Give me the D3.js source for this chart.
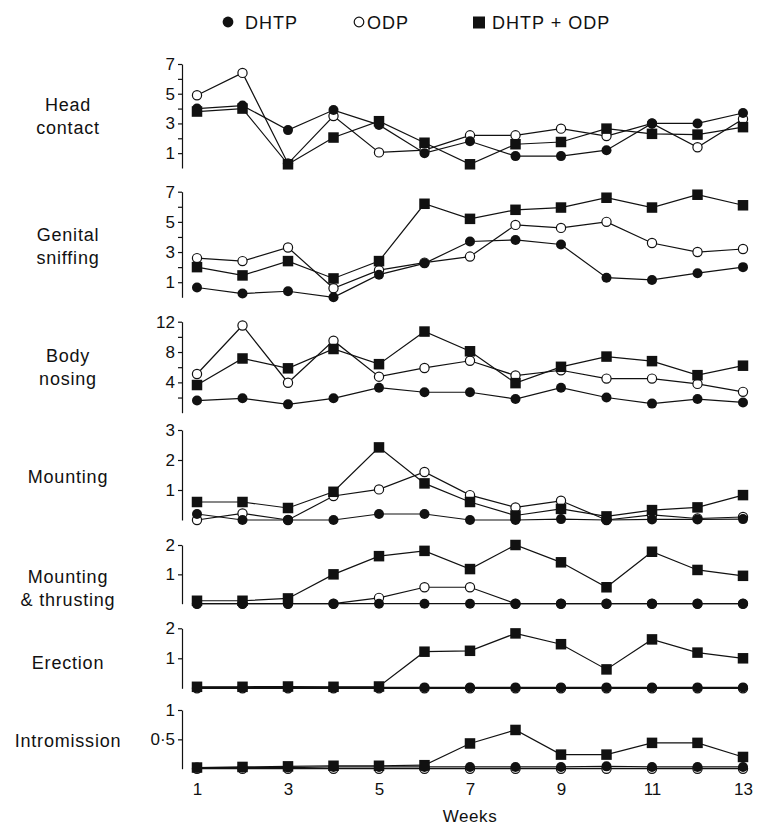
<!DOCTYPE html>
<html>
<head>
<meta charset="utf-8">
<script src="https://cdn.jsdelivr.net/npm/d3@7"></script>
<style>
  body { margin: 0; background: #fff; }
  svg { font-family: "Liberation Sans", Arial, Helvetica, sans-serif; }
</style>
</head>
<body>
<svg id="chart" width="758" height="825"></svg>
<script>
const weeks = [1, 2, 3, 4, 5, 6, 7, 8, 9, 10, 11, 12, 13];
const weekLabels = [1, 3, 5, 7, 9, 11, 13];
const seriesNames = ['DHTP', 'ODP', 'DHTP + ODP'];
const behaviours = [
  ['Head', 'contact'],
  ['Genital', 'sniffing'],
  ['Body', 'nosing'],
  ['Mounting'],
  ['Mounting', '& thrusting'],
  ['Erection'],
  ['Intromission']
];

// one row per behaviour, one value per week
const dhtp = [
  [4.0, 4.2, 2.55, 3.9, 2.9, 1.0, 1.8, 0.8, 0.8, 1.2, 3.0, 3.0, 3.7],
  [0.65, 0.25, 0.4, 0.0, 1.5, 2.25, 3.7, 3.8, 3.5, 1.3, 1.15, 1.6, 2.0],
  [1.6, 1.9, 1.1, 1.9, 3.3, 2.7, 2.7, 1.8, 3.3, 2.0, 1.2, 1.8, 1.35],
  [0.2, 0, 0, 0, 0.2, 0.2, 0, 0, 0.03, 0, 0.02, 0.02, 0.03],
  [0, 0, 0, 0, 0, 0, 0, 0, 0, 0, 0, 0, 0],
  [0.03, 0.03, 0.03, 0.03, 0.03, 0.03, 0.03, 0.03, 0.03, 0.03, 0.03, 0.03, 0.03],
  [0.02, 0.02, 0.02, 0.03, 0.03, 0.03, 0.03, 0.03, 0.03, 0.04, 0.03, 0.03, 0.03]
];
const odp = [
  [4.9, 6.4, 0.3, 3.5, 1.05, 1.2, 2.2, 2.2, 2.65, 2.15, 3.0, 1.4, 3.3],
  [2.6, 2.4, 3.3, 0.6, 1.8, 2.3, 2.7, 4.8, 4.6, 5.0, 3.6, 3.0, 3.2],
  [5.1, 11.5, 3.95, 9.5, 4.75, 5.9, 6.85, 4.9, 5.6, 4.5, 4.5, 3.8, 2.75],
  [0, 0.22, 0, 0.8, 1.02, 1.6, 0.83, 0.42, 0.64, 0, 0.17, 0.05, 0.1],
  [0, 0, 0, 0, 0.2, 0.56, 0.56, 0, 0, 0, 0, 0, 0],
  [0, 0, 0, 0, 0, 0, 0, 0, 0, 0, 0, 0, 0],
  [0, 0, 0, 0, 0, 0, 0, 0, 0, 0, 0, 0, 0]
];
const combined = [
  [3.8, 4.0, 0.25, 2.05, 3.15, 1.7, 0.25, 1.6, 1.75, 2.65, 2.3, 2.25, 2.75],
  [2.0, 1.45, 2.4, 1.25, 2.4, 6.2, 5.2, 5.8, 5.95, 6.6, 5.95, 6.8, 6.1],
  [3.65, 7.15, 5.85, 8.4, 6.4, 10.7, 8.1, 3.9, 6.05, 7.4, 6.8, 4.95, 6.2],
  [0.6, 0.6, 0.4, 0.94, 2.42, 1.22, 0.6, 0.15, 0.37, 0.12, 0.33, 0.42, 0.83],
  [0.1, 0.1, 0.18, 1.0, 1.62, 1.8, 1.18, 2.0, 1.41, 0.56, 1.77, 1.15, 0.95],
  [0.05, 0.05, 0.06, 0.05, 0.06, 1.22, 1.25, 1.83, 1.47, 0.63, 1.63, 1.19, 1.0],
  [0.02, 0.03, 0.04, 0.05, 0.05, 0.06, 0.43, 0.66, 0.24, 0.24, 0.44, 0.44, 0.2]
];

const yMax = [7, 7, 12, 3, 2, 2, 1];
const yTicks = [
  [1, 2, 3, 4, 5, 6, 7],
  [1, 2, 3, 4, 5, 6, 7],
  [2, 4, 6, 8, 10, 12],
  [1, 2, 3],
  [1, 2],
  [1, 2],
  [0.5, 1]
];
const yTickLabels = [
  [1, 3, 5, 7],
  [1, 3, 5, 7],
  [4, 8, 12],
  [1, 2, 3],
  [1, 2],
  [1, 2],
  [0.5, 1]
];

// panel placement: [top, bottom, label centre y]
const panelBox = [
  [64, 168, 116],
  [191.7, 297.3, 246],
  [321.7, 412.7, 367],
  [430, 520, 477],
  [545, 603.7, 588],
  [628.3, 688.3, 663],
  [710, 768.7, 741]
];

const svg = d3.select('#chart');
const x = d3.scaleLinear().domain([1, 13]).range([197, 743]);
const axisX = 182;
const fmtTick = d => String(d).replace('.', '\u00b7');

behaviours.forEach((label, i) => {
  const [top, bottom, labelY] = panelBox[i];
  const y = d3.scaleLinear().domain([0, yMax[i]]).range([bottom, top]);
  const g = svg.append('g');

  const axis = d3.axisLeft(y)
    .tickValues(yTicks[i])
    .tickSize(4)
    .tickSizeOuter(0)
    .tickPadding(3)
    .tickFormat(d => yTickLabels[i].includes(d) ? fmtTick(d) : '');
  const ag = g.append('g')
    .attr('transform', `translate(${axisX},0)`)
    .call(axis);
  ag.selectAll('path, line').attr('stroke', '#111').attr('stroke-width', 1.2);
  ag.selectAll('text')
    .attr('font-size', 17)
    .attr('fill', '#111')
    .style('font-family', '"Liberation Sans", Arial, sans-serif');

  // behaviour name, left of the axis
  const lineGap = 23;
  const firstY = labelY - (label.length - 1) * lineGap / 2 + 6;
  g.append('text')
    .attr('text-anchor', 'middle')
    .attr('font-size', 18)
    .attr('letter-spacing', 0.8)
    .attr('fill', '#111')
    .selectAll('tspan')
    .data(label)
    .enter()
    .append('tspan')
    .attr('x', 68)
    .attr('y', (d, j) => firstY + j * lineGap)
    .text(d => d);

  const line = d3.line()
    .x((d, j) => x(weeks[j]))
    .y(d => y(d));

  const sets = [odp[i], dhtp[i], combined[i]];
  sets.forEach(vals => {
    g.append('path')
      .datum(vals)
      .attr('d', line)
      .attr('fill', 'none')
      .attr('stroke', '#111')
      .attr('stroke-width', 1.2);
  });

  // markers: open circles first, then filled, squares on top
  g.selectAll('.odp')
    .data(odp[i])
    .enter()
    .append('circle')
    .attr('cx', (d, j) => x(weeks[j]))
    .attr('cy', d => y(d))
    .attr('r', 4.6)
    .attr('fill', '#fff')
    .attr('stroke', '#111')
    .attr('stroke-width', 1.2);

  g.selectAll('.dhtp')
    .data(dhtp[i])
    .enter()
    .append('circle')
    .attr('cx', (d, j) => x(weeks[j]))
    .attr('cy', d => y(d))
    .attr('r', 5)
    .attr('fill', '#111');

  const sq = 10.5;
  g.selectAll('.combined')
    .data(combined[i])
    .enter()
    .append('rect')
    .attr('x', (d, j) => x(weeks[j]) - sq / 2)
    .attr('y', d => y(d) - sq / 2)
    .attr('width', sq)
    .attr('height', sq)
    .attr('fill', '#111');
});

// week labels along the bottom, no axis line
const xg = svg.append('g')
  .attr('transform', 'translate(0,780)')
  .call(d3.axisBottom(x).tickValues(weekLabels).tickSize(0).tickPadding(3));
xg.select('.domain').remove();
xg.selectAll('text')
  .attr('font-size', 17)
  .attr('fill', '#111')
  .style('font-family', '"Liberation Sans", Arial, sans-serif');

svg.append('text')
  .attr('x', 470)
  .attr('y', 822)
  .attr('text-anchor', 'middle')
  .attr('font-size', 17)
  .attr('letter-spacing', 0.6)
  .attr('fill', '#111')
  .text('Weeks');

// legend
const legend = svg.append('g').attr('font-size', 18).attr('fill', '#111');
legend.append('circle').attr('cx', 228).attr('cy', 22).attr('r', 5.4).attr('fill', '#111');
legend.append('text').attr('x', 245).attr('y', 28.5).attr('letter-spacing', 1).text(seriesNames[0]);
legend.append('circle').attr('cx', 359).attr('cy', 22).attr('r', 4.8)
  .attr('fill', '#fff').attr('stroke', '#111').attr('stroke-width', 1.2);
legend.append('text').attr('x', 367).attr('y', 28.5).attr('letter-spacing', 1).text(seriesNames[1]);
legend.append('rect').attr('x', 473).attr('y', 16.5).attr('width', 12).attr('height', 12).attr('fill', '#111');
legend.append('text').attr('x', 492).attr('y', 28.5).attr('letter-spacing', 1).text(seriesNames[2]);
</script>
</body>
</html>
